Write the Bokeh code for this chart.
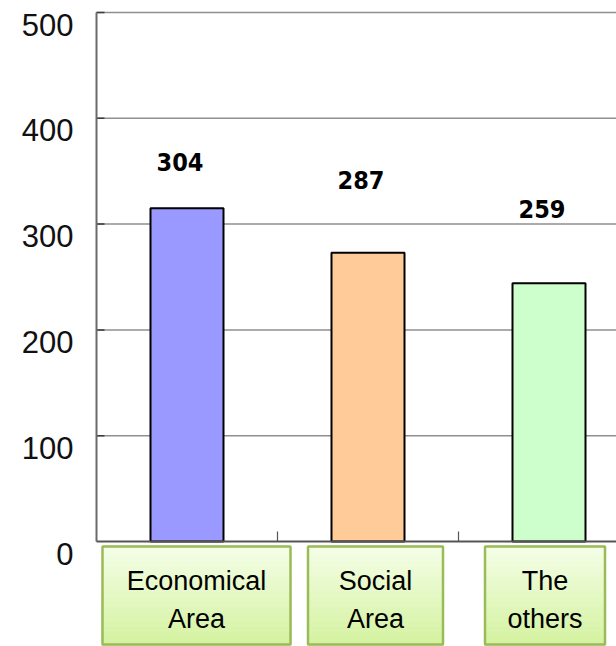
from bokeh.plotting import figure
from bokeh.models import Range1d, ColumnDataSource
from bokeh.core.properties import value
from bokeh.embed import file_html
from bokeh.resources import INLINE

# ---- data ----
categories = ["Economical\nArea", "Social\nArea", "The\nothers"]
bar_heights = [315, 273, 244]          # bar tops as drawn
bar_labels = [304, 287, 259]           # numbers printed above bars
bar_colors = ["#9999ff", "#ffcc99", "#ccffcc"]
y_ticks = [0, 100, 200, 300, 400, 500]

# ---- layout constants (pixels) ----
W, H = 616, 646
left_px, base_px, top_px = 96, 541, 12
cat_px = 181.0
ppu = (base_px - top_px) / 500.0

x_start = -left_px / cat_px
x_end = (W - left_px) / cat_px
y_end = 500 + top_px / ppu
y_start = -(H - base_px) / ppu

p = figure(width=W, height=H, output_backend="svg", toolbar_location=None,
           x_range=Range1d(x_start, x_end), y_range=Range1d(y_start, y_end),
           min_border=0, min_border_left=0, min_border_right=0,
           min_border_top=0, min_border_bottom=0)
p.axis.visible = False
p.grid.visible = False
p.outline_line_color = None
p.background_fill_color = "white"
p.border_fill_color = "white"

n = len(categories)
xc = [i + 0.5 for i in range(n)]

# gridlines
gl = [t for t in y_ticks if t > 0]
p.segment(x0=[0] * len(gl), y0=gl, x1=[x_end] * len(gl), y1=gl,
          line_color="#8f8f8f", line_width=1.5)
# inner ticks on left axis
p.segment(x0=[0] * len(gl), y0=gl, x1=[8 / cat_px] * len(gl), y1=gl,
          line_color="#3a3a3a", line_width=1.5)

# bars
src = ColumnDataSource(dict(x=xc, top=bar_heights, color=bar_colors,
                            lab=[str(v) for v in bar_labels], ly=bar_labels))
p.vbar(x="x", top="top", bottom=0, width=73 / cat_px, source=src,
       fill_color="color", line_color="black", line_width=2)

# axes lines
p.segment(x0=[0], y0=[0], x1=[0], y1=[500], line_color="#6a6a6a", line_width=2)
p.segment(x0=[0], y0=[0], x1=[x_end], y1=[0], line_color="#555555", line_width=2)
# category separator ticks
p.segment(x0=list(range(1, n)), y0=[0] * (n - 1), x1=list(range(1, n)),
          y1=[10 / ppu] * (n - 1), line_color="#555555", line_width=1.2)

# value labels
p.text(x="x", y="ly", text="lab", source=src, x_offset=-7, y_offset=-58,
       text_align="center", text_baseline="middle",
       text_font=value("'DejaVu Sans Condensed', 'Liberation Sans', sans-serif"),
       text_font_style="bold", text_font_size="25px", text_color="black")

# y tick labels
p.text(x=[0] * len(y_ticks), y=y_ticks, text=[str(t) for t in y_ticks],
       x_offset=-23, y_offset=12, text_align="right", text_baseline="middle",
       text_font=value("Liberation Sans"), text_font_size="31px",
       text_color="#111111")

# category label boxes with gradient
box_w = [190, 137, 122]
box_dx = [9.5, 7.5, -4.0]
box_top, box_h = 4.0, 100.0
N = 40
top_rgb = (0xf5, 0xfe, 0xe8)
bot_rgb = (0xd3, 0xf2, 0x9e)
for i in range(n):
    bx = xc[i] + box_dx[i] / cat_px
    ys, cols = [], []
    for k in range(N):
        t = (k + 0.5) / N
        c = tuple(int(round(a + (b - a) * t)) for a, b in zip(top_rgb, bot_rgb))
        ys.append(-(box_top + (k + 0.5) * box_h / N) / ppu)
        cols.append("#%02x%02x%02x" % c)
    p.rect(x=[bx] * N, y=ys, width=box_w[i], height=box_h / N + 0.6,
           width_units="screen", height_units="screen",
           fill_color=cols, line_color=None)
    p.rect(x=[bx], y=[-(box_top + box_h / 2) / ppu], width=box_w[i] - 2,
           height=box_h - 2, width_units="screen", height_units="screen",
           fill_color=None, line_color="#9bbb59", line_width=2.5)
    lines = categories[i].split("\n")
    p.text(x=[bx] * len(lines), y=[0] * len(lines), text=lines,
           y_offset=[39, 77][:len(lines)], text_align="center",
           text_baseline="middle", text_font=value("Liberation Sans"),
           text_font_size="27px", text_color="black")

open("out.html", "w").write(file_html(p, INLINE))
